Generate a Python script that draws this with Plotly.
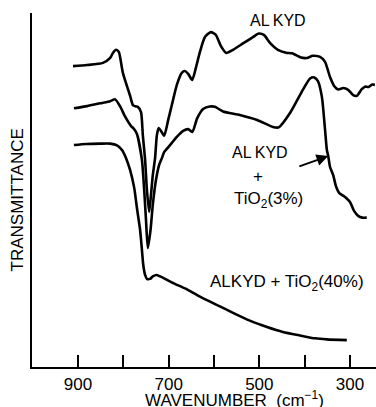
import plotly.graph_objects as go

# ---- data (wavenumber cm^-1, transmittance in arbitrary units 0-100) ----
alkyd_wn = [911, 880, 845, 829, 823, 816, 810, 801, 785, 779, 772, 768, 761, 757, 752, 748, 743,
            739, 735, 730, 726, 722, 717, 710, 701, 693, 682, 671, 664, 657, 648, 640, 631, 620,
            607, 596, 585, 573, 558, 536, 514, 501, 490, 476, 459, 441, 428, 419, 408, 395, 382,
            366, 355, 344, 335, 326, 315, 304, 293, 285, 274, 267, 259, 251, 245]
alkyd_t = [85.0, 85.3, 85.9, 87.3, 88.7, 89.6, 89.0, 83.1, 76.6, 74.0, 73.6, 73.5, 72.0, 65.5, 58.5,
           50.0, 43.8, 48.6, 54.2, 59.0, 65.5, 67.5, 66.7, 65.3, 69.8, 74.0, 79.7, 83.1, 83.6, 82.8,
           81.1, 84.5, 89.0, 93.2, 94.6, 93.8, 90.7, 88.7, 89.6, 91.4, 93.2, 94.2, 93.8, 91.5, 89.6,
           88.8, 88.6, 88.1, 87.4, 87.3, 87.9, 87.6, 86.2, 81.9, 79.4, 78.4, 78.8, 78.3, 76.8, 76.6,
           78.5, 79.2, 79.1, 79.8, 79.7]

tio2_3_wn = [909, 880, 851, 829, 818, 807, 796, 782, 778, 770, 759, 754, 750, 746, 740, 735, 728,
             721, 715, 710, 704, 693, 682, 668, 657, 648, 637, 624, 609, 598, 580, 543, 505, 470,
             457, 432, 404, 388, 379, 371, 362, 355, 351, 348, 344, 337, 331, 324, 313, 300, 291,
             282, 273, 263]
tio2_3_t = [73.1, 73.7, 74.5, 75.1, 75.6, 73.6, 70.7, 67.9, 67.5, 65.8, 58.5, 50.0, 41.5, 33.6, 38.7,
            45.8, 52.8, 57.1, 59.0, 60.7, 61.6, 63.3, 65.0, 66.7, 67.2, 66.4, 70.3, 72.9, 73.6, 73.5,
            72.2, 71.2, 69.8, 67.8, 67.7, 71.8, 78.3, 81.5, 81.8, 80.8, 76.3, 67.0, 61.3, 59.6, 56.5,
            54.2, 51.1, 49.2, 48.2, 46.6, 44.1, 42.7, 42.2, 42.2]

tio2_40_wn = [909, 882, 851, 829, 814, 803, 794, 785, 776, 770, 763, 759, 756, 752, 748, 741, 735,
              727, 719, 708, 690, 664, 631, 593, 558, 521, 483, 448, 410, 377, 351, 307]
tio2_40_t = [62.7, 63.0, 63.1, 63.1, 62.6, 61.3, 59.0, 55.6, 50.6, 44.9, 38.7, 33.1, 28.8, 26.0, 24.9,
             24.9, 25.6, 26.0, 25.6, 24.9, 23.7, 22.2, 19.9, 17.5, 15.3, 13.1, 11.3, 9.9, 8.9, 8.1,
             7.8, 7.6]

tick_vals = [900, 800, 700, 600, 500, 400, 300]
tick_text = ["900", "", "700", "", "500", "", "300"]

FONT = "Liberation Sans, Arial, sans-serif"
LINE = dict(color="black", width=2.6, shape="spline", smoothing=0.6)

fig = go.Figure()
for wn, t, name in [(alkyd_wn, alkyd_t, "ALKYD"),
                    (tio2_3_wn, tio2_3_t, "ALKYD + TiO2(3%)"),
                    (tio2_40_wn, tio2_40_t, "ALKYD + TiO2(40%)")]:
    fig.add_trace(go.Scatter(x=wn, y=t, mode="lines", line=LINE, name=name,
                             showlegend=False, hoverinfo="skip"))

txt = dict(family=FONT, size=16, color="black")
txt2 = dict(family=FONT, size=17, color="black")
fig.add_annotation(x=459, y=98.0, text="AL\u2009KYD", showarrow=False, font=txt, xanchor="center", yanchor="middle")
fig.add_annotation(x=498, y=60.5, text="AL\u2009KYD", showarrow=False, font=txt, xanchor="center", yanchor="middle")
fig.add_annotation(x=503, y=53.7, text="+", showarrow=False, font=txt2, xanchor="center", yanchor="middle")
fig.add_annotation(x=479, y=47.3, text="TiO<sub>2</sub>(3%)", showarrow=False, font=txt2, xanchor="center", yanchor="middle")
fig.add_annotation(x=439, y=23.8, text="ALKYD + TiO<sub>2</sub>(40%)", showarrow=False, font=txt2, xanchor="center", yanchor="middle")
# arrow pointing to the 3% curve
fig.add_annotation(x=348, y=59.6, ax=415, ay=56.5, axref="x", ayref="y", xref="x", yref="y",
                   text="", showarrow=True, arrowhead=2, arrowsize=1.3, arrowwidth=1.8, arrowcolor="black")

# axis titles (placed in paper coordinates)
fig.add_annotation(x=0.59, y=-0.091, xref="paper", yref="paper", showarrow=False,
                   text="WAVENUMBER\u00a0\u00a0(cm<sup>\u22121</sup>)", xanchor="center", yanchor="middle",
                   font=dict(family=FONT, size=17, color="black"))
fig.add_annotation(x=-0.042, y=0.472, xref="paper", yref="paper", showarrow=False, textangle=-90,
                   text="TRANSMITTANCE", xanchor="center", yanchor="middle",
                   font=dict(family=FONT, size=17, color="black"))

fig.update_layout(
    width=376, height=407,
    margin=dict(l=32, r=0, t=13, b=40),
    paper_bgcolor="white", plot_bgcolor="white",
    font=dict(family=FONT, color="black"),
    xaxis=dict(range=[1001.5, 242.6], showgrid=False, zeroline=False, automargin=False,
               showline=True, linewidth=2.4, linecolor="black",
               ticks="inside", ticklen=12, tickwidth=2, tickcolor="black",
               tickvals=tick_vals, ticktext=tick_text,
               tickfont=dict(family=FONT, size=17, color="black")),
    yaxis=dict(range=[0, 100], showgrid=False, zeroline=False, automargin=False,
               showline=True, linewidth=2.4, linecolor="black",
               showticklabels=False, ticks=""),
)

fig.write_html("out.html", config={"displayModeBar": False},
               post_script="document.body.style.margin='0';document.body.style.overflow='hidden';")
